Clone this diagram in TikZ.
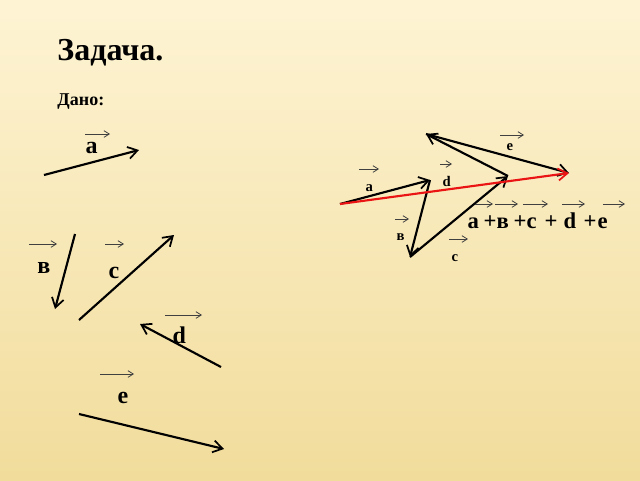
\documentclass[tikz,border=0pt]{standalone}
\usepackage{fontspec}
\setmainfont{Liberation Serif}
\usetikzlibrary{arrows.meta,calc}

\definecolor{bgtop}{RGB}{254,244,212}
\definecolor{bgbot}{RGB}{241,220,155}
\definecolor{sumred}{RGB}{235,20,20}

\tikzset{every picture/.style={line width=0.75pt}}
\tikzset{
  vec/.style={line width=1.6pt,-{Straight Barb[length=7pt,width=9pt,line width=1.3pt]}},
  sumvec/.style={vec,draw=sumred},
  overtip/.style={line width=0.6pt,draw=black!75,-{Straight Barb[length=4pt,width=5pt]}},
  biglab/.style={anchor=base west,inner sep=0pt,font=\fontsize{18}{20}\selectfont\bfseries},
  smalllab/.style={anchor=base west,inner sep=0pt,font=\fontsize{11}{13}\selectfont\bfseries},
  sumlab/.style={anchor=base west,inner sep=0pt,font=\fontsize{17}{19}\selectfont\bfseries},
}
% arrow over a letter node: node, dx, height above base, length
\newcommand{\overvec}[4]{\draw[overtip] ($(#1.base west)+(#2,-#3)$) -- ++(#4,0);}

\begin{document}
\begin{tikzpicture}[x=0.75pt,y=0.75pt,yscale=-1,xscale=1]
%background
\shade[top color=bgtop,bottom color=bgbot] (0,0) rectangle (640,480);
\useasboundingbox (0,0) rectangle (640,480);

% Text Node
\node (title) [anchor=base west,inner sep=0pt,font=\fontsize{24}{28}\selectfont\bfseries] at (57,60) {Задача.};
% Text Node
\node (given) [anchor=base west,inner sep=0pt,font=\fontsize{13.5}{15}\selectfont\bfseries] at (57,105) {Дано:};

%given vectors
\coordinate (a0) at (44,175);  \coordinate (a1) at (139,150);
\coordinate (b0) at (75,234);  \coordinate (b1) at (55,309);
\coordinate (c0) at (79,320);  \coordinate (c1) at (174,235);
\coordinate (d0) at (221,367); \coordinate (d1) at (140,324);
\coordinate (e0) at (79,414);  \coordinate (e1) at (224,449);
\draw[vec] (a0) -- (a1);
\draw[vec] (b0) -- (b1);
\draw[vec] (c0) -- (c1);
\draw[vec] (d0) -- (d1);
\draw[vec] (e0) -- (e1);

\node (la) [biglab] at (85,153) {a};
\node (lb) [biglab] at (37,273) {в};
\node (lc) [biglab] at (108,278) {с};
\node (ld) [biglab] at (172,343) {d};
\node (le) [biglab] at (117,403) {е};
\overvec{la}{0}{19}{25}
\overvec{lb}{-8}{29}{28}
\overvec{lc}{-3}{34}{19}
\overvec{ld}{-7}{28}{37}
\overvec{le}{-17}{29}{34}

%sum of vectors
\coordinate (p0) at (340,204);
\coordinate (p1) at (430,180);
\coordinate (p2) at (410,257);
\coordinate (p3) at (508,176);
\coordinate (p4) at (426,134);
\coordinate (p5) at (569,173);
\draw[vec] (p0) -- (p1);
\draw[vec] (p1) -- (p2);
\draw[vec] (p2) -- (p3);
\draw[vec] (p3) -- (p4);
\draw[vec] (p4) -- (p5);
\draw[sumvec] (p0) -- (p5);

\node (ra) [smalllab] at (365,191) {a};
\node (rb) [smalllab] at (396,240) {в};
\node (rc) [smalllab] at (451,261) {с};
\node (rd) [smalllab] at (442,186) {d};
\node (re) [smalllab] at (506,150) {е};
\overvec{ra}{-6}{22}{20}
\overvec{rb}{-1}{21}{14}
\overvec{rc}{-2}{22}{19}
\overvec{rd}{-2}{22}{12}
\overvec{re}{-6}{15}{24}

% Text Node
\node (sa)  [sumlab] at (467,228) {a};
\node (sp1) [sumlab] at (483,228) {+};
\node (sb)  [sumlab] at (496,228) {в};
\node (sp2) [sumlab] at (513,228) {+};
\node (sc)  [sumlab] at (526,228) {с};
\node (sp3) [sumlab] at (544,228) {+};
\node (sd)  [sumlab] at (563,228) {d};
\node (sp4) [sumlab] at (583,228) {+};
\node (se)  [sumlab] at (597,228) {е};
\overvec{sa}{8}{24}{18}
\overvec{sb}{-1}{24}{23}
\overvec{sc}{-3}{24}{25}
\overvec{sd}{-1}{24}{23}
\overvec{se}{6}{24}{22}
\end{tikzpicture}
\end{document}
